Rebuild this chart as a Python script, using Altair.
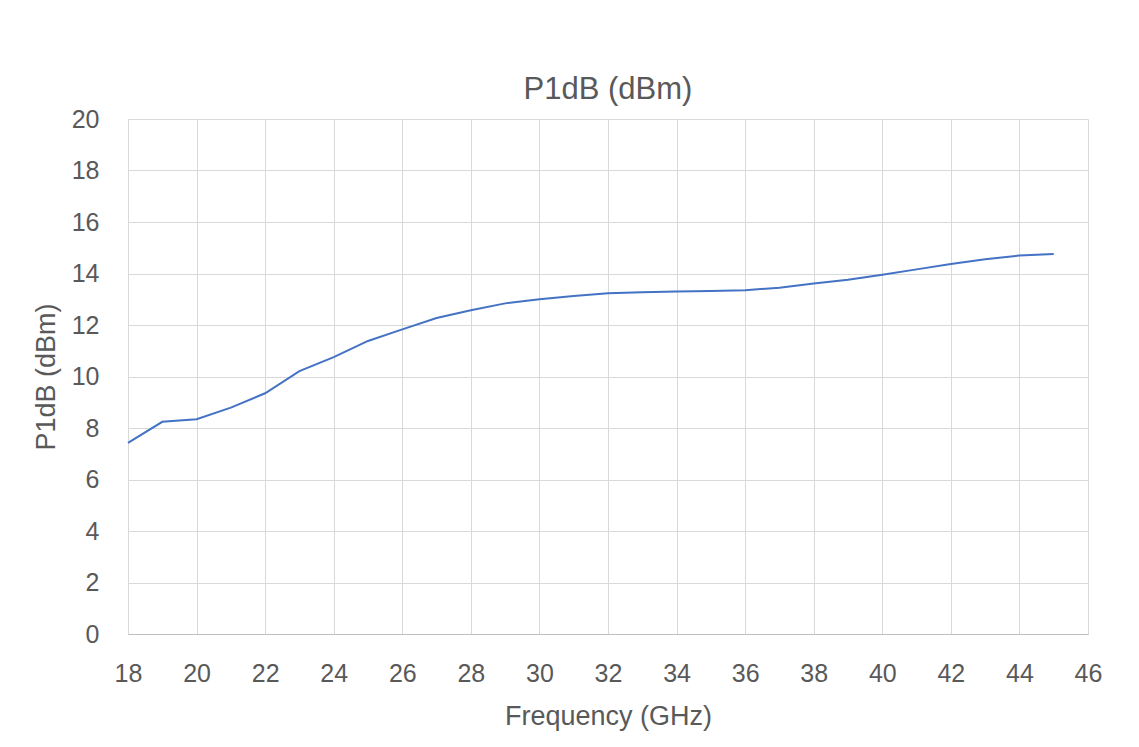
import altair as alt
import pandas as pd

freq_ghz = [18, 19, 20, 21, 22, 23, 24, 25, 26, 27, 28, 29, 30, 31,
            32, 33, 34, 35, 36, 37, 38, 39, 40, 41, 42, 43, 44, 45]
p1db_dbm = [7.42, 8.24, 8.34, 8.79, 9.35, 10.21, 10.75, 11.38, 11.83, 12.27, 12.57, 12.84, 13.0, 13.13,
            13.23, 13.27, 13.30, 13.32, 13.35, 13.45, 13.61, 13.76, 13.95, 14.16, 14.37, 14.55, 14.70, 14.76]

x_ticks = list(range(18, 47, 2))
y_ticks = list(range(0, 21, 2))

df = pd.DataFrame({"freq": freq_ghz, "p1db": p1db_dbm})

FONT = "Liberation Sans"
GREY = "#595959"

chart = alt.Chart(df).mark_line(color="#4472C4", strokeWidth=2).encode(
    x=alt.X("freq:Q",
            scale=alt.Scale(domain=[18, 46], nice=False, zero=False),
            axis=alt.Axis(values=x_ticks, title="Frequency (GHz)", ticks=False,
                          labelFlush=False, labelOverlap=False,
                          labelPadding=27, titlePadding=17, labelFontSize=25,
                          titleFontSize=27, domainColor="#BFBFBF", domainWidth=1,
                          gridColor="#D9D9D9")),
    y=alt.Y("p1db:Q",
            scale=alt.Scale(domain=[0, 20], nice=False),
            axis=alt.Axis(values=y_ticks, title="P1dB (dBm)", ticks=False,
                          labelFlush=False, labelOverlap=False,
                          labelPadding=29, titlePadding=11, labelFontSize=25,
                          titleFontSize=27, domain=False, gridColor="#D9D9D9")),
).properties(
    width=960,
    height=515,
    title=alt.TitleParams("P1dB (dBm)", fontSize=31, font=FONT, color=GREY,
                          fontWeight="normal", offset=1),
    autosize=alt.AutoSizeParams(type="none"),
    padding={"left": 120, "top": 111, "right": 43, "bottom": 100},
).configure_axis(
    labelFont=FONT, titleFont=FONT, labelColor=GREY, titleColor=GREY,
    titleFontWeight="normal",
).configure_view(
    stroke=None,
)

chart.save("out.html", embed_options={"renderer": "svg", "actions": False})
